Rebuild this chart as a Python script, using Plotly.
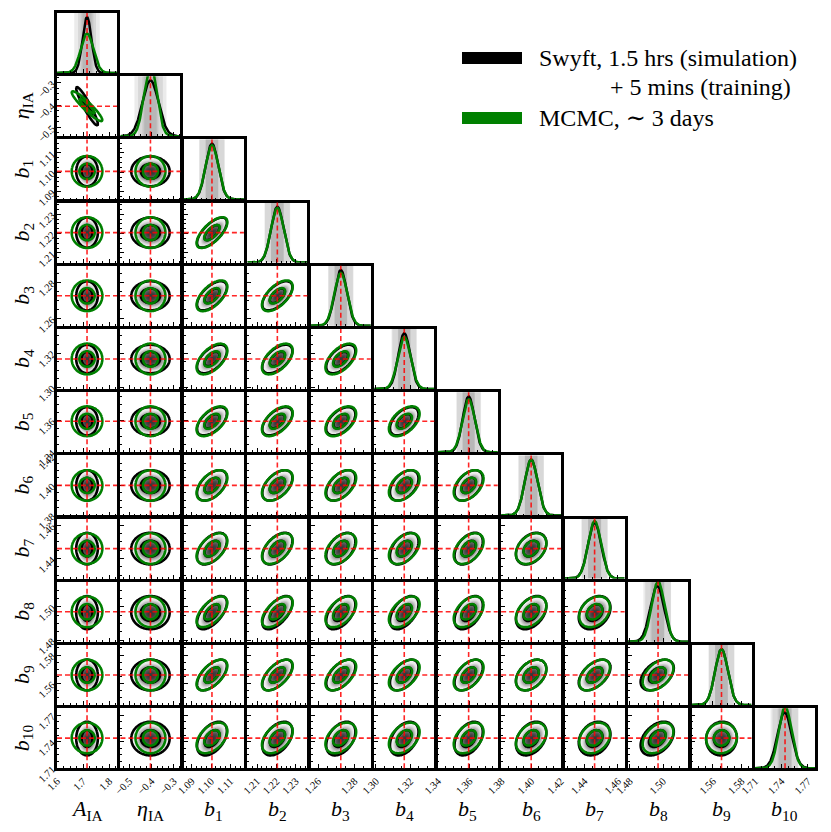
import numpy as np
import plotly.graph_objects as go

# parameter names (axis titles)
labels = ["<i>A</i><sub>IA</sub>", "<i>η</i><sub>IA</sub>"] + [f"<i>b</i><sub>{i}</sub>" for i in range(1, 11)]

# fiducial (true) values
truth = [1.715, -0.405, 1.1005, 1.2205, 1.2725, 1.3165, 1.3595, 1.400, 1.446, 1.497, 1.566, 1.744]

# axis ranges per parameter
lo = [1.5998, -0.54, 1.086, 1.205, 1.256, 1.299, 1.3398, 1.3798, 1.428, 1.479, 1.545, 1.7098]
hi = [1.83, -0.27, 1.117, 1.236, 1.289, 1.334, 1.378, 1.4202, 1.464, 1.515, 1.587, 1.778]

# tick values per parameter
tickvals = [
    [1.6, 1.7, 1.8],
    [-0.5, -0.4, -0.3],
    [1.09, 1.10, 1.11],
    [1.21, 1.22, 1.23],
    [1.26, 1.28],
    [1.30, 1.32],
    [1.34, 1.36],
    [1.38, 1.40, 1.42],
    [1.44, 1.46],
    [1.48, 1.50],
    [1.56, 1.58],
    [1.71, 1.74, 1.77],
]
minor_dt = [0.025, 0.025, 0.0025, 0.0025, 0.005, 0.005, 0.005, 0.005, 0.005, 0.005, 0.005, 0.0075]

# posterior summaries: Swyft and MCMC
mean_swyft = [1.715, -0.405, 1.1005, 1.2205, 1.2725, 1.3165, 1.3595, 1.400, 1.446, 1.4965, 1.566, 1.7435]
mean_mcmc = [1.715, -0.405, 1.1005, 1.2205, 1.2725, 1.3165, 1.3595, 1.400, 1.446, 1.497, 1.566, 1.7442]
sig_swyft = [0.0173, 0.0360, 0.00321, 0.00324, 0.00334, 0.00347, 0.00375, 0.00427, 0.00396, 0.00415, 0.00448, 0.00798]
sig_mcmc = [0.0245, 0.0280, 0.00331, 0.00331, 0.00352, 0.00373, 0.00395, 0.00427, 0.00384, 0.00384, 0.00448, 0.00725]

# correlation coefficients, lower triangle (row param vs column param)
corr = [
    [],
    [-0.93],
    [0.0, 0.0],
    [0.0, 0.0, 0.68],
    [0.0, 0.0, 0.60, 0.60],
    [0.0, 0.0, 0.55, 0.55, 0.55],
    [0.0, 0.0, 0.55, 0.55, 0.50, 0.50],
    [0.0, 0.0, 0.50, 0.50, 0.50, 0.45, 0.45],
    [0.0, 0.0, 0.50, 0.50, 0.45, 0.45, 0.45, 0.35],
    [0.0, 0.0, 0.60, 0.60, 0.50, 0.50, 0.45, 0.40, 0.30],
    [0.0, 0.0, 0.60, 0.60, 0.55, 0.50, 0.50, 0.40, 0.50, 0.45],
    [0.0, 0.0, 0.45, 0.45, 0.40, 0.40, 0.40, 0.35, 0.25, 0.40, 0.05],
]

# page body has an 8px margin: work in window pixels, convert to paper coords
OFF = 8
W, H = 815, 816
N = len(labels)
SMOOTH = 1.2  # 2d contours are smoothed -> a bit wider than 1d
FONT = "Liberation Serif, DejaVu Serif, serif"
GREEN = "#008000"


def px(x):
    return (x - OFF) / W


def py(y):
    return 1 - (y - OFF) / H


def xdom(c):
    left = 57 + 63.45 * c
    return [px(left), px(left + 60)]


def ydom(r):
    top = 13 + 63.2 * r
    return [py(top + 60), py(top)]


def tick_text(vals):
    out = []
    for v in vals:
        s = f"{v:.1f}" if abs(v) < 1 or v in (1.6, 1.7, 1.8) else f"{v:.2f}"
        out.append(s.replace("-", "−"))
    return out


def maha(X, Y, mx, my, sx, sy, rho):
    dx = (X - mx) / sx
    dy = (Y - my) / sy
    return (dx ** 2 - 2 * rho * dx * dy + dy ** 2) / (1 - rho ** 2)


fig = go.Figure()
layout = dict(
    width=W, height=H,
    margin=dict(l=0, r=0, t=0, b=0, autoexpand=False),
    paper_bgcolor="white", plot_bgcolor="white",
    showlegend=False,
    font=dict(family=FONT, color="black"),
)
shapes = []
annotations = []
gray_scale = [[0, "#ffffff"], [0.1, "#ffffff"], [0.3, "#e6e6e6"], [0.5, "#a6a6a6"],
              [0.65, "#767676"], [0.85, "#505050"], [1, "#363636"]]
dash = dict(color="rgba(255,0,0,0.85)", width=1.6, dash="5px,3px")

n = 0
for r in range(N):
    for c in range(r + 1):
        n += 1
        xa = "x" if n == 1 else f"x{n}"
        ya = "y" if n == 1 else f"y{n}"
        xkey = "xaxis" if n == 1 else f"xaxis{n}"
        ykey = "yaxis" if n == 1 else f"yaxis{n}"

        xaxis = dict(
            domain=xdom(c), anchor=ya, range=[lo[c], hi[c]], automargin=False,
            showline=True, linecolor="black", linewidth=2.5, mirror=True,
            showgrid=False, zeroline=False,
            tickmode="array", tickvals=tickvals[c], ticktext=tick_text(tickvals[c]),
            ticks="inside", ticklen=4, tickwidth=1, tickcolor="black",
            minor=dict(ticks="inside", ticklen=2, tickwidth=1, tickcolor="black",
                       tickmode="linear", tick0=tickvals[c][0], dtick=minor_dt[c]),
            showticklabels=(r == N - 1), tickangle=-45,
            tickfont=dict(size=10.5, family=FONT),
        )
        if r == c:
            peak = 1 / (sig_swyft[c] * np.sqrt(2 * np.pi))
            yaxis = dict(
                domain=ydom(r), anchor=xa, range=[0, 1.075 * peak], automargin=False,
                showline=True, linecolor="black", linewidth=2.5, mirror=True,
                showgrid=False, zeroline=False, ticks="", showticklabels=False,
            )
            # credible bands
            for mu, sg in ((mean_swyft[c], sig_swyft[c]), (mean_mcmc[c], sig_mcmc[c])):
                for k in (1, 2):
                    shapes.append(dict(
                        type="rect", xref=xa, yref=f"{ya} domain",
                        x0=mu - k * sg, x1=mu + k * sg, y0=0, y1=1,
                        fillcolor="rgba(0,0,0,0.08)", line=dict(width=0), layer="below",
                    ))
            xs = np.linspace(lo[c], hi[c], 200)
            for mu, sg, col in ((mean_swyft[c], sig_swyft[c], "black"), (mean_mcmc[c], sig_mcmc[c], GREEN)):
                ys = np.exp(-0.5 * ((xs - mu) / sg) ** 2) / (sg * np.sqrt(2 * np.pi))
                fig.add_trace(go.Scatter(x=xs, y=ys, mode="lines", line=dict(color=col, width=2.5),
                                         xaxis=xa, yaxis=ya, hoverinfo="skip"))
            shapes.append(dict(type="line", xref=xa, yref=f"{ya} domain",
                               x0=truth[c], x1=truth[c], y0=0, y1=1, line=dash, layer="above"))
        else:
            yaxis = dict(
                domain=ydom(r), anchor=xa, range=[lo[r], hi[r]], automargin=False,
                showline=True, linecolor="black", linewidth=2.5, mirror=True,
                showgrid=False, zeroline=False,
                tickmode="array", tickvals=tickvals[r], ticktext=tick_text(tickvals[r]),
                ticks="inside", ticklen=4, tickwidth=1, tickcolor="black",
                minor=dict(ticks="inside", ticklen=2, tickwidth=1, tickcolor="black",
                           tickmode="linear", tick0=tickvals[r][0], dtick=minor_dt[r]),
                showticklabels=(c == 0), tickangle=-45,
                tickfont=dict(size=10.5, family=FONT),
            )
            rho = corr[r][c]
            gx = np.linspace(lo[c], hi[c], 60)
            gy = np.linspace(lo[r], hi[r], 60)
            X, Y = np.meshgrid(gx, gy)
            Ds = maha(X, Y, mean_swyft[c], mean_swyft[r], SMOOTH * sig_swyft[c], SMOOTH * sig_swyft[r], rho)
            Dm = maha(X, Y, mean_mcmc[c], mean_mcmc[r], SMOOTH * sig_mcmc[c], SMOOTH * sig_mcmc[r], rho)
            fig.add_trace(go.Heatmap(x=gx, y=gy, z=np.exp(-0.5 * Ds).astype(np.float32),
                                     zmin=0, zmax=1, colorscale=gray_scale, showscale=False,
                                     zsmooth="best", xaxis=xa, yaxis=ya, hoverinfo="skip"))
            for D, col in ((Ds, "black"), (Dm, GREEN)):
                fig.add_trace(go.Contour(
                    x=gx, y=gy, z=D.astype(np.float32), autocontour=False,
                    contours=dict(start=1, end=4, size=3, coloring="lines"),
                    colorscale=[[0, col], [1, col]], showscale=False,
                    line=dict(width=2.6), xaxis=xa, yaxis=ya, hoverinfo="skip",
                ))
            shapes.append(dict(type="line", xref=xa, yref=f"{ya} domain",
                               x0=truth[c], x1=truth[c], y0=0, y1=1, line=dash, layer="above"))
            shapes.append(dict(type="line", xref=f"{xa} domain", yref=ya,
                               x0=0, x1=1, y0=truth[r], y1=truth[r], line=dash, layer="above"))

        layout[xkey] = xaxis
        layout[ykey] = yaxis

# axis titles
for c in range(N):
    d = xdom(c)
    annotations.append(dict(text=labels[c], x=(d[0] + d[1]) / 2, y=py(810),
                            xref="paper", yref="paper", xanchor="center", yanchor="middle",
                            showarrow=False, font=dict(size=22, family=FONT)))
for r in range(1, N):
    d = ydom(r)
    annotations.append(dict(text=labels[r], x=px(23), y=(d[0] + d[1]) / 2,
                            xref="paper", yref="paper", xanchor="center", yanchor="middle",
                            showarrow=False, textangle=-90, font=dict(size=22, family=FONT)))

# legend
for yb, col in ((58, "black"), (118, GREEN)):
    shapes.append(dict(type="rect", xref="paper", yref="paper",
                       x0=px(462), x1=px(522), y0=py(yb + 6), y1=py(yb - 6),
                       fillcolor=col, line=dict(width=0)))
legend_text = [
    ("Swyft, 1.5 hrs (simulation)", 537, 58, "left"),
    ("+ 5 mins (training)", 793, 87, "right"),
    ("MCMC, ∼ 3 days", 537, 118, "left"),
]
for txt, xt, yt, anc in legend_text:
    annotations.append(dict(text=txt, x=px(xt), y=py(yt), xref="paper", yref="paper",
                            xanchor=anc, yanchor="middle", showarrow=False,
                            font=dict(size=24, family=FONT)))

layout["shapes"] = shapes
layout["annotations"] = annotations
fig.update_layout(**layout)

fig.write_html("out.html")
